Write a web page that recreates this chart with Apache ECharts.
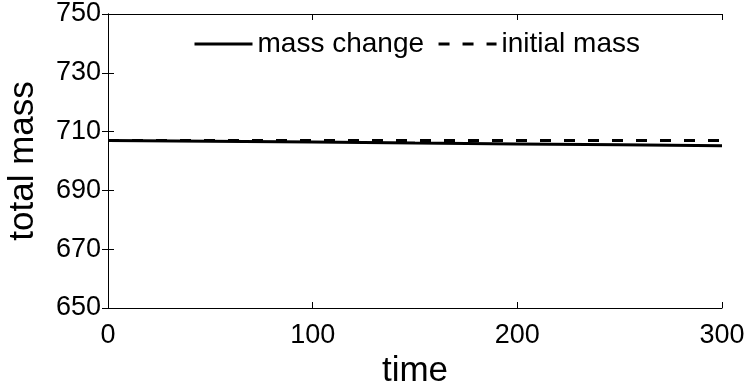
<!DOCTYPE html>
<html>
<head>
<meta charset="utf-8">
<script src="https://cdn.jsdelivr.net/npm/echarts@6/dist/echarts.min.js"></script>
<style>html,body{margin:0;padding:0;background:#fff;}#c{width:748px;height:383px;}</style>
</head>
<body>
<div id="c"></div>
<script>
var timeValues = [0, 50, 100, 150, 200, 250, 300];
var massChange = [707.0, 706.75, 706.5, 706.1, 705.8, 705.5, 705.2];
var initialMass = [707.0, 707.0, 707.0, 707.0, 707.0, 707.0, 707.0];
var seriesNames = ['mass change', 'initial mass'];
var xTicks = [0, 100, 200, 300];
var yTicks = [650, 670, 690, 710, 730, 750];

var FONT = 'Arial, "Liberation Sans", sans-serif';
function pairs(xs, ys) { return xs.map(function (x, i) { return [x, ys[i]]; }); }

var axisLine = { show: true, lineStyle: { color: '#000', width: 1 } };
var tick = { show: true, inside: true, length: 6, lineStyle: { color: '#000', width: 1 } };

var chart = echarts.init(document.getElementById('c'), null, { renderer: 'canvas' });
chart.setOption({
  animation: false,
  backgroundColor: '#fff',
  grid: { left: 108, right: 26, top: 14, bottom: 75, containLabel: false, outerBoundsMode: 'none' },
  legend: {
    data: seriesNames,
    top: 25,
    left: 188,
    itemWidth: 58,
    itemHeight: 14,
    itemGap: 13,
    itemStyle: { opacity: 0 },
    lineStyle: { width: 3 },
    textStyle: { fontFamily: FONT, fontSize: 28, color: '#000' }
  },
  xAxis: [{
    type: 'value', min: xTicks[0], max: xTicks[xTicks.length - 1], interval: 100,
    name: 'time', nameLocation: 'middle', nameGap: 39,
    nameTextStyle: { fontFamily: FONT, fontSize: 35, color: '#000' },
    axisLine: axisLine, axisTick: tick, splitLine: { show: false },
    axisLabel: { fontFamily: FONT, fontSize: 27, color: '#000', margin: 14 }
  }, {
    type: 'value', position: 'top', min: xTicks[0], max: xTicks[xTicks.length - 1], interval: 100,
    axisLine: axisLine, axisTick: tick, splitLine: { show: false }, axisLabel: { show: false }
  }],
  yAxis: [{
    type: 'value', min: yTicks[0], max: yTicks[yTicks.length - 1], interval: 20,
    name: 'total mass', nameLocation: 'middle', nameGap: 67,
    nameTextStyle: { fontFamily: FONT, fontSize: 35, color: '#000' },
    axisLine: axisLine, axisTick: tick, splitLine: { show: false },
    axisLabel: { fontFamily: FONT, fontSize: 27, color: '#000', margin: 7 }
  }, {
    type: 'value', position: 'right', min: yTicks[0], max: yTicks[yTicks.length - 1], interval: 20,
    axisLine: axisLine, axisTick: tick, splitLine: { show: false }, axisLabel: { show: false }
  }],
  series: [{
    name: seriesNames[0], type: 'line', xAxisIndex: 0, yAxisIndex: 0,
    data: pairs(timeValues, massChange), symbol: 'none', smooth: false,
    lineStyle: { color: '#000', width: 3, type: 'solid' }, itemStyle: { color: '#000' }
  }, {
    name: seriesNames[1], type: 'line', xAxisIndex: 0, yAxisIndex: 0,
    data: pairs(timeValues, initialMass), symbol: 'none',
    lineStyle: { color: '#000', width: 3, type: [11, 13] }, itemStyle: { color: '#000' }
  }]
});
</script>
</body>
</html>
